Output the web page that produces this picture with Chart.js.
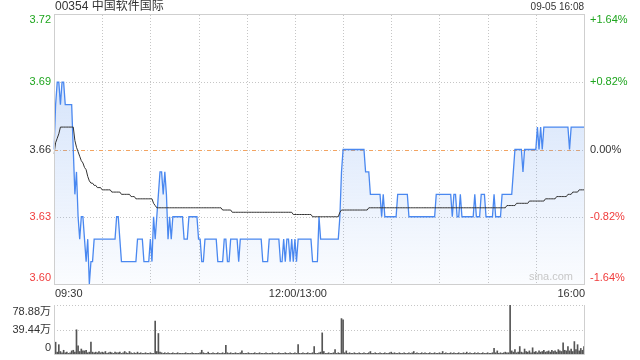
<!DOCTYPE html>
<html>
<head>
<meta charset="utf-8">
<script src="https://cdn.jsdelivr.net/npm/chart.js@4"></script>
<style>
  body { margin: 0; background: #fff; }
  #wrap { position: relative; width: 640px; height: 360px; }
  canvas { position: absolute; left: 0; }
</style>
</head>
<body>
<div id="wrap">
  <canvas id="price" width="640" height="300" style="top:0"></canvas>
  <canvas id="vol" width="640" height="60" style="top:300px"></canvas>
</div>
<script>
const title = "00354 中国软件国际";
const stamp = "09-05 16:08";
const prevClose = 3.66;
const priceTicks = [3.60, 3.63, 3.66, 3.69, 3.72];
const pctTicks = ["-1.64%", "-0.82%", "0.00%", "+0.82%", "+1.64%"];
const timeTicks = [0, 30, 60, 90, 120, 150, 180, 210, 240, 270, 300, 330];
const timeLabels = { 0: "09:30", 150: "12:00/13:00", 330: "16:00" };
const volTicks = [0, 39.44, 78.88];
const volLabels = ["0", "39.44万", "78.88万"];

// one value per minute, 09:30 .. 16:00 (lunch break removed)
const price = [
  3.66,3.68,3.69,3.69,3.68,3.69,3.69,3.68,3.68,3.68,
  3.68,3.68,3.66,3.64,3.65,3.63,3.62,3.63,3.63,3.62,
  3.61,3.62,3.60,3.61,3.61,3.62,3.62,3.62,3.62,3.62,
  3.62,3.62,3.62,3.62,3.62,3.62,3.62,3.62,3.62,3.63,
  3.63,3.62,3.61,3.61,3.61,3.61,3.61,3.61,3.61,3.61,
  3.61,3.61,3.62,3.62,3.62,3.62,3.61,3.61,3.61,3.61,
  3.62,3.61,3.63,3.62,3.63,3.64,3.65,3.65,3.64,3.65,
  3.64,3.62,3.63,3.62,3.63,3.63,3.63,3.63,3.63,3.63,
  3.63,3.62,3.62,3.62,3.63,3.63,3.63,3.63,3.63,3.63,
  3.62,3.62,3.61,3.61,3.62,3.62,3.62,3.62,3.62,3.62,
  3.62,3.62,3.61,3.61,3.61,3.61,3.62,3.62,3.61,3.61,
  3.62,3.62,3.62,3.62,3.62,3.61,3.62,3.62,3.62,3.62,
  3.62,3.62,3.62,3.62,3.62,3.62,3.62,3.62,3.62,3.62,
  3.61,3.61,3.61,3.61,3.62,3.62,3.62,3.62,3.62,3.62,
  3.62,3.61,3.61,3.62,3.61,3.62,3.62,3.61,3.62,3.61,
  3.62,3.61,3.62,3.62,3.62,3.62,3.62,3.62,3.62,3.62,
  3.62,3.61,3.61,3.61,3.61,3.63,3.62,3.62,3.62,3.62,
  3.62,3.62,3.62,3.62,3.62,3.62,3.62,3.62,3.63,3.65,
  3.66,3.66,3.66,3.66,3.66,3.66,3.66,3.66,3.66,3.66,
  3.66,3.66,3.66,3.66,3.65,3.65,3.65,3.64,3.64,3.64,
  3.64,3.64,3.64,3.64,3.63,3.64,3.63,3.63,3.63,3.63,
  3.63,3.63,3.63,3.63,3.64,3.64,3.64,3.64,3.64,3.64,
  3.64,3.63,3.63,3.63,3.63,3.63,3.63,3.63,3.63,3.63,
  3.63,3.63,3.63,3.63,3.63,3.63,3.63,3.63,3.64,3.64,
  3.64,3.64,3.64,3.64,3.64,3.64,3.64,3.64,3.63,3.64,
  3.64,3.63,3.63,3.64,3.63,3.63,3.63,3.63,3.63,3.63,
  3.63,3.63,3.64,3.63,3.63,3.63,3.64,3.64,3.64,3.63,
  3.63,3.63,3.63,3.63,3.64,3.63,3.63,3.63,3.63,3.64,
  3.64,3.64,3.64,3.64,3.64,3.64,3.65,3.66,3.66,3.66,
  3.66,3.66,3.65,3.66,3.66,3.66,3.66,3.66,3.66,3.66,
  3.66,3.67,3.66,3.67,3.66,3.67,3.67,3.67,3.67,3.67,
  3.67,3.67,3.67,3.67,3.67,3.67,3.67,3.67,3.67,3.67,
  3.67,3.66,3.67,3.67,3.67,3.67,3.67,3.67,3.67,3.67,
  3.67
];

const avgPrice = [
  3.658,3.663,3.665,3.667,3.670,3.670,3.670,3.670,3.670,3.670,
  3.670,3.670,3.670,3.664,3.661,3.659,3.657,3.655,3.654,3.652,
  3.651,3.648,3.646,3.645,3.645,3.644,3.644,3.643,3.643,3.643,
  3.642,3.642,3.642,3.642,3.642,3.642,3.641,3.641,3.641,3.641,
  3.641,3.641,3.640,3.640,3.640,3.640,3.640,3.640,3.639,3.639,
  3.639,3.638,3.638,3.638,3.638,3.638,3.638,3.638,3.638,3.638,
  3.638,3.638,3.636,3.635,3.634,3.634,3.634,3.634,3.634,3.634,
  3.634,3.634,3.634,3.634,3.634,3.634,3.634,3.634,3.634,3.634,
  3.634,3.634,3.634,3.634,3.634,3.634,3.634,3.634,3.634,3.634,
  3.634,3.634,3.634,3.634,3.634,3.634,3.634,3.634,3.634,3.634,
  3.634,3.634,3.634,3.634,3.634,3.633,3.633,3.633,3.633,3.633,
  3.633,3.632,3.632,3.632,3.632,3.632,3.632,3.632,3.632,3.632,
  3.632,3.632,3.632,3.632,3.632,3.632,3.632,3.632,3.632,3.632,
  3.632,3.632,3.632,3.632,3.632,3.632,3.632,3.632,3.632,3.632,
  3.632,3.632,3.632,3.632,3.632,3.632,3.632,3.632,3.632,3.631,
  3.631,3.631,3.631,3.631,3.631,3.631,3.631,3.631,3.631,3.631,
  3.631,3.630,3.630,3.630,3.630,3.630,3.630,3.630,3.630,3.630,
  3.630,3.630,3.630,3.630,3.630,3.630,3.630,3.630,3.632,3.633,
  3.633,3.633,3.633,3.633,3.633,3.633,3.633,3.633,3.633,3.633,
  3.633,3.633,3.633,3.633,3.633,3.633,3.634,3.634,3.634,3.634,
  3.634,3.634,3.634,3.634,3.634,3.634,3.634,3.634,3.634,3.634,
  3.634,3.634,3.634,3.634,3.634,3.634,3.634,3.634,3.634,3.634,
  3.634,3.634,3.634,3.634,3.634,3.634,3.634,3.634,3.634,3.634,
  3.634,3.634,3.634,3.634,3.634,3.634,3.634,3.634,3.634,3.634,
  3.634,3.634,3.634,3.634,3.634,3.634,3.634,3.634,3.634,3.634,
  3.634,3.634,3.634,3.634,3.634,3.634,3.634,3.634,3.634,3.634,
  3.634,3.634,3.634,3.634,3.634,3.634,3.634,3.634,3.634,3.634,
  3.634,3.634,3.634,3.634,3.634,3.634,3.634,3.634,3.634,3.634,
  3.634,3.634,3.635,3.635,3.635,3.635,3.635,3.635,3.636,3.636,
  3.636,3.636,3.636,3.636,3.636,3.636,3.637,3.637,3.637,3.637,
  3.637,3.637,3.637,3.637,3.637,3.637,3.638,3.638,3.638,3.638,
  3.638,3.638,3.638,3.639,3.639,3.639,3.639,3.639,3.639,3.639,
  3.640,3.640,3.640,3.641,3.641,3.641,3.641,3.642,3.642,3.642,
  3.642
];

// volume per minute, in 万 shares
const volume = [
  8,19,3,15,4,2,6,2,3,1,
  2,5,6,3,39,13,4,8,5,5,
  6,2,3,19,3,2,3,2,4,2,
  3,2,4,1,2,3,2,1,3,2,
  2,3,1,2,4,2,1,4,2,1,
  2,1,3,1,2,1,1,2,1,1,
  2,1,1,53,4,33,3,2,1,2,
  1,2,1,1,2,1,1,2,1,1,
  1,1,2,1,1,1,2,1,1,1,
  1,2,6,2,1,1,3,1,1,2,
  1,1,2,1,1,2,1,14,2,1,
  2,1,1,2,1,1,2,5,1,1,
  1,2,1,1,1,2,1,1,2,1,
  1,1,2,1,1,1,2,1,1,1,
  2,1,1,1,2,1,1,2,1,1,
  2,1,15,1,1,2,1,1,2,1,
  1,2,12,1,1,2,3,34,4,1,
  1,2,1,1,2,7,1,2,1,57,
  55,2,5,1,2,1,1,2,1,1,
  2,1,1,2,1,1,2,4,1,1,
  2,1,1,2,1,1,2,1,1,2,
  3,1,2,1,1,2,1,1,2,1,
  1,2,1,2,4,1,2,1,1,2,
  1,2,1,1,2,1,1,2,1,1,
  2,1,4,1,2,1,1,2,1,2,
  1,1,2,1,1,2,1,3,1,2,
  1,1,2,1,2,1,1,2,1,1,
  2,1,1,2,9,2,5,1,2,1,
  2,3,2,2,78.88,5,3,7,2,3,
  12,3,2,8,4,3,5,2,10,3,
  4,2,5,3,4,6,3,4,5,3,
  6,4,5,3,7,5,4,18,6,5,
  12,5,8,4,20,7,15,5,9,6,
  12
];

const minutes = price.map((_, i) => i);
const FONT = "11px Arial, 'Liberation Sans', 'Noto Sans CJK SC', sans-serif";
const GREEN = "#1ea51e";
const RED = "#f03c3c";
const INK = "#333";

function tickColor(v) {
  if (v > prevClose + 1e-9) return GREEN;
  if (v < prevClose - 1e-9) return RED;
  return INK;
}

const priceFrame = {
  id: "priceFrame",
  beforeDatasetsDraw(chart) {
    const { ctx, chartArea: a, scales: { x, y } } = chart;
    ctx.save();
    ctx.lineWidth = 1;
    ctx.strokeStyle = "#c6c6c6";
    ctx.setLineDash([1, 2]);
    ctx.beginPath();
    timeTicks.slice(1, -1).forEach(t => {
      const px = Math.round(x.getPixelForValue(t)) + 0.5;
      ctx.moveTo(px, a.top);
      ctx.lineTo(px, a.bottom);
    });
    priceTicks.slice(1, -1).forEach(v => {
      const py = Math.round(y.getPixelForValue(v)) + 0.5;
      ctx.moveTo(a.left, py);
      ctx.lineTo(a.right, py);
    });
    ctx.stroke();
    ctx.strokeStyle = "#f4a460";
    ctx.setLineDash([4, 5]);
    const pc = Math.round(y.getPixelForValue(prevClose)) + 0.5;
    ctx.beginPath();
    ctx.moveTo(a.left, pc);
    ctx.lineTo(a.right, pc);
    ctx.stroke();
    ctx.restore();
  },
  afterDraw(chart) {
    const { ctx, chartArea: a, scales: { x, y } } = chart;
    ctx.save();
    ctx.strokeStyle = "#cfcfcf";
    ctx.lineWidth = 1;
    ctx.strokeRect(a.left + 0.5, a.top - 0.5, a.right - a.left, a.bottom - a.top + 1);

    ctx.font = FONT;
    ctx.textBaseline = "middle";
    priceTicks.forEach((v, i) => {
      let py = y.getPixelForValue(v);
      if (i === priceTicks.length - 1) py += 5;
      if (i === 0) py -= 6;
      ctx.fillStyle = tickColor(v);
      ctx.textAlign = "right";
      ctx.fillText(v.toFixed(2), a.left - 3, py);
      ctx.textAlign = "left";
      ctx.fillText(pctTicks[i], a.right + 6, py);
    });

    ctx.fillStyle = INK;
    ctx.textAlign = "left";
    ctx.fillText(timeLabels[0], x.getPixelForValue(0) + 1, a.bottom + 10);
    ctx.textAlign = "center";
    ctx.fillText(timeLabels[150], x.getPixelForValue(150) + 3, a.bottom + 10);
    ctx.textAlign = "right";
    ctx.fillText(timeLabels[330], x.getPixelForValue(330) + 1, a.bottom + 10);

    ctx.fillStyle = "#c8c8c8";
    ctx.fillText("sina.com", a.right - 11, a.bottom - 7);

    ctx.fillStyle = INK;
    ctx.font = "12px Arial, 'Liberation Sans', 'Noto Sans CJK SC', sans-serif";
    ctx.textAlign = "left";
    ctx.fillText(title, a.left + 1, 7);
    ctx.font = "10px Arial, 'Liberation Sans', sans-serif";
    ctx.textAlign = "right";
    ctx.fillText(stamp, a.right, 7);
    ctx.restore();
  }
};

const volFrame = {
  id: "volFrame",
  beforeDatasetsDraw(chart) {
    const { ctx, chartArea: a, scales: { y } } = chart;
    ctx.save();
    ctx.lineWidth = 1;
    ctx.strokeStyle = "#c6c6c6";
    ctx.setLineDash([1, 2]);
    ctx.beginPath();
    [volTicks[1], volTicks[2]].forEach(v => {
      const py = Math.round(y.getPixelForValue(v)) + 0.5;
      ctx.moveTo(a.left, py);
      ctx.lineTo(a.right, py);
    });
    ctx.stroke();
    ctx.restore();
  },
  afterDraw(chart) {
    const { ctx, chartArea: a, scales: { y } } = chart;
    ctx.save();
    ctx.strokeStyle = "#cfcfcf";
    ctx.lineWidth = 1;
    ctx.beginPath();
    ctx.moveTo(a.left + 0.5, a.top);
    ctx.lineTo(a.left + 0.5, a.bottom + 0.5);
    ctx.lineTo(a.right + 0.5, a.bottom + 0.5);
    ctx.lineTo(a.right + 0.5, a.top);
    ctx.stroke();
    ctx.font = FONT;
    ctx.fillStyle = INK;
    ctx.textAlign = "right";
    ctx.textBaseline = "middle";
    volTicks.forEach((v, i) => {
      let py = y.getPixelForValue(v);
      if (i === 0) py -= 6;
      if (i === volTicks.length - 1) py += 7;
      ctx.fillText(volLabels[i], a.left - 3, py);
    });
    ctx.restore();
  }
};

new Chart(document.getElementById("price"), {
  type: "line",
  data: {
    labels: minutes,
    datasets: [
      {
        data: avgPrice,
        borderColor: "#333",
        borderWidth: 1,
        pointRadius: 0,
        fill: false,
        order: 0
      },
      {
        data: price,
        borderColor: "#4a88f0",
        borderWidth: 1.3,
        pointRadius: 0,
        fill: "start",
        order: 1,
        backgroundColor(c) {
          const a = c.chart.chartArea;
          if (!a) return "rgba(0,0,0,0)";
          const g = c.chart.ctx.createLinearGradient(0, a.top, 0, a.bottom);
          g.addColorStop(0, "rgba(110,160,240,0.36)");
          g.addColorStop(1, "rgba(110,160,240,0.03)");
          return g;
        }
      }
    ]
  },
  options: {
    responsive: false,
    animation: false,
    events: [],
    layout: { padding: { left: 54, right: 56, top: 15, bottom: 16 } },
    plugins: { legend: { display: false }, tooltip: { enabled: false } },
    scales: {
      x: { type: "category", display: false, offset: false },
      y: { display: false, min: 3.60, max: 3.72 }
    }
  },
  plugins: [priceFrame]
});

new Chart(document.getElementById("vol"), {
  type: "bar",
  data: {
    labels: minutes,
    datasets: [{
      data: volume,
      backgroundColor: "#555",
      barThickness: 1,
      borderWidth: 0
    }]
  },
  options: {
    responsive: false,
    animation: false,
    events: [],
    layout: { padding: { left: 54, right: 56, top: 5, bottom: 6 } },
    plugins: { legend: { display: false }, tooltip: { enabled: false } },
    scales: {
      x: { type: "category", display: false, offset: false },
      y: { display: false, min: 0, max: 78.88 }
    }
  },
  plugins: [volFrame]
});
</script>
</body>
</html>
